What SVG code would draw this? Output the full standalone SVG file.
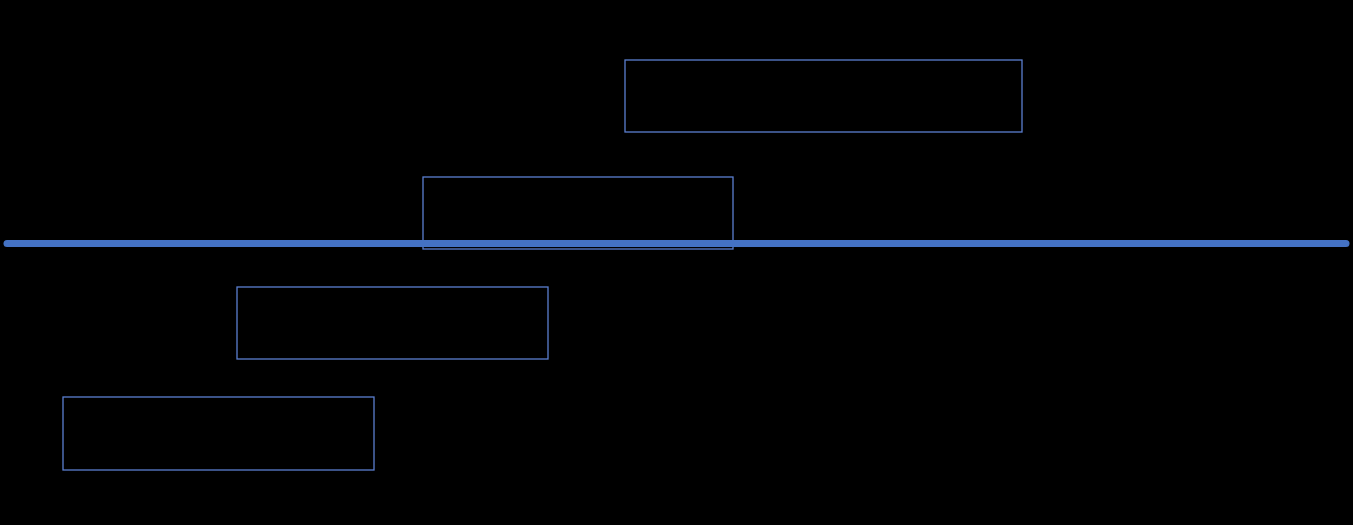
<svg xmlns="http://www.w3.org/2000/svg" width="1353" height="525" viewBox="0 0 1353 525">
<style>
.box{fill:none;stroke:#5b7fd0;stroke-width:1.3}
.axis{stroke:#4472c4;stroke-width:7;stroke-linecap:round;fill:none}
</style>
<rect x="0" y="0" width="1353" height="525" fill="#000000"/>
<g id="node1"><rect class="box" x="625" y="60" width="397" height="72"/></g>
<g id="node2"><rect class="box" x="423" y="177" width="310" height="72"/></g>
<g id="node3"><rect class="box" x="237" y="287" width="311" height="72"/></g>
<g id="node4"><rect class="box" x="63" y="397" width="311" height="73"/></g>
<g id="connectors"><line class="axis" x1="7" y1="243.5" x2="1346" y2="243.5"/></g>
</svg>
